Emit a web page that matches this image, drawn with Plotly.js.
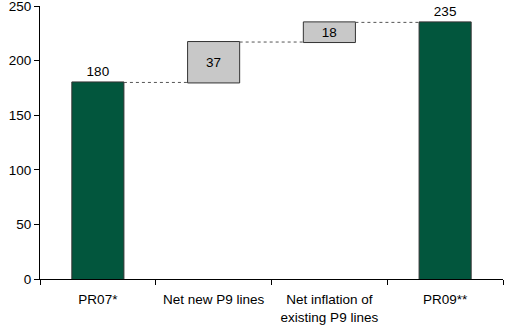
<!DOCTYPE html>
<html>
<head>
<meta charset="utf-8">
<script src="https://cdn.plot.ly/plotly-3.0.1.min.js"></script>
<style>html,body{margin:0;padding:0;background:#fff}#chart{width:510px;height:328px}</style>
</head>
<body>
<div id="chart"></div>
<script>
var categories = ["PR07*", "Net new P9 lines", "Net inflation of<br>existing P9 lines", "PR09**"];
var values = [180, 37, 18, 235];
var measures = ["absolute", "relative", "relative", "total"];
var labels = ["180", "37", "18", "235"];
var textPositions = ["outside", "inside", "inside", "outside"];
var yTickVals = [0, 50, 100, 150, 200, 250];
var yTickText = ["0", "50", "100", "150", "200", "250"];

var FONT = "Liberation Sans, Arial, sans-serif";
var FS = 13.5;

var trace = {
  type: "waterfall",
  x: categories,
  y: values,
  measure: measures,
  text: labels,
  textposition: textPositions,
  textinfo: "text",
  insidetextanchor: "middle",
  textfont: {family: FONT, size: FS, color: "#000"},
  outsidetextfont: {family: FONT, size: FS, color: "#000"},
  insidetextfont: {family: FONT, size: FS, color: "#000"},
  constraintext: "none",
  cliponaxis: false,
  increasing: {marker: {color: "#c8c8c8", line: {color: "#333", width: 1}}},
  decreasing: {marker: {color: "#c8c8c8", line: {color: "#333", width: 1}}},
  totals: {marker: {color: "#02563d", line: {color: "#333", width: 1}}},
  connector: {mode: "between", line: {color: "#555", width: 1, dash: "3px,3px"}},
  hoverinfo: "skip"
};

var layout = {
  width: 510, height: 328,
  margin: {l: 40, r: 7, t: 6, b: 49},
  paper_bgcolor: "#fff", plot_bgcolor: "#fff",
  showlegend: false,
  waterfallgap: 0.55,
  font: {family: FONT, size: FS, color: "#000"},
  xaxis: {
    type: "category",
    showline: true, linecolor: "#000", linewidth: 1,
    ticks: "outside", tickson: "boundaries", ticklen: 5, tickcolor: "#000",
    showgrid: false, zeroline: false,
    ticklabelstandoff: 8,
    tickfont: {family: FONT, size: FS, color: "#000"}
  },
  yaxis: {
    range: [0, 250],
    tickmode: "array", tickvals: yTickVals, ticktext: yTickText,
    showline: true, linecolor: "#000", linewidth: 1,
    ticks: "outside", ticklen: 5, tickcolor: "#000",
    showgrid: false, zeroline: false,
    ticklabeloverflow: "allow",
    tickfont: {family: FONT, size: FS, color: "#000"}
  }
};

Plotly.newPlot("chart", [trace], layout, {staticPlot: true, displayModeBar: false});
</script>
</body>
</html>
